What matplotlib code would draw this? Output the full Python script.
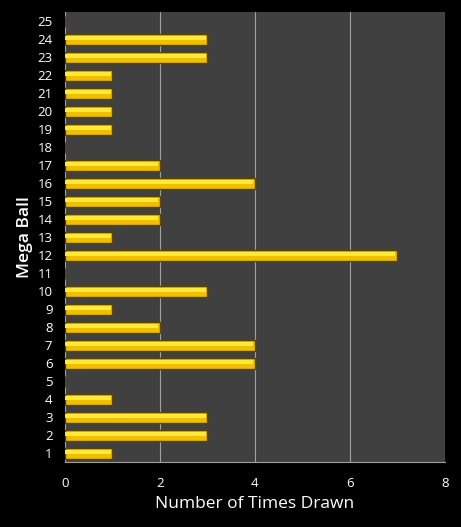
import numpy as np
import matplotlib
matplotlib.use('Agg')
from matplotlib import pyplot as plt

balls = list(range(1, 26))
times_drawn = [1, 3, 3, 1, 0, 4, 4, 2, 1, 3, 0, 7, 1, 2, 2, 4, 2, 0, 1, 1, 1, 1, 3, 3, 0]
x_ticks = [0, 2, 4, 6, 8]

plt.rcParams['font.family'] = ['Open Sans', 'DejaVu Sans']

fig = plt.figure(figsize=(4.61, 5.27), dpi=100, facecolor='black')
ax = fig.add_axes([0.141, 0.123, 0.824, 0.854])
ax.set_facecolor('#404040')

# base bar with dark outline, then a lighter strip on top for the bevel look
ax.barh(balls, times_drawn, height=0.6, color='#efc000', edgecolor='#5a4400',
        linewidth=1.0, zorder=3)
ax.barh(np.array(balls) + 0.07, np.array(times_drawn) - 0.04, height=0.24,
        left=0.0, color='#ffe838', linewidth=0, zorder=4)

ax.set_xlim(0, 8)
ax.set_ylim(0.5, 25.5)
ax.set_xticks(x_ticks)
ax.set_yticks(balls)
ax.set_yticklabels([str(b) for b in balls])
ax.xaxis.grid(True, color='#a0a0a0', linewidth=0.8, zorder=1)
ax.set_axisbelow(True)

for side in ['top', 'right', 'left']:
    ax.spines[side].set_visible(False)
ax.spines['bottom'].set_color('#a0a0a0')

ax.tick_params(axis='both', colors='white', length=0, labelsize=9.5)
ax.tick_params(axis='x', pad=11)
ax.tick_params(axis='y', pad=9)

ax.set_xlabel('Number of Times Drawn', color='white', fontsize=12.5, labelpad=4)
ax.set_ylabel('Mega Ball', color='white', fontsize=12.5, fontweight='semibold', labelpad=3)

fig.savefig('out.png', dpi=100, facecolor='black')
